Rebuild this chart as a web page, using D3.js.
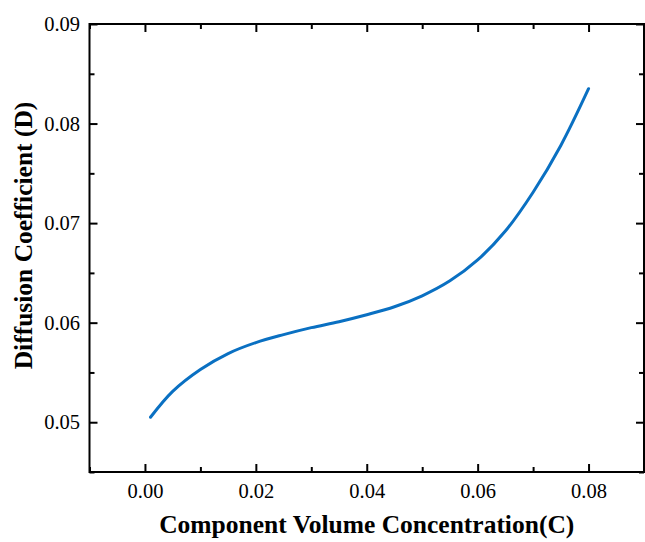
<!DOCTYPE html>
<html>
<head>
<meta charset="utf-8">
<script src="https://cdn.jsdelivr.net/npm/d3@7/dist/d3.min.js"></script>
<style>
  html, body { margin: 0; padding: 0; background: #fff; }
  svg { display: block; }
</style>
</head>
<body>
<svg id="chart" width="645" height="542"></svg>
<script>
// Concentration values and fitted diffusion coefficient
const concentration = [0.001, 0.005, 0.010, 0.015, 0.020, 0.025, 0.030, 0.035, 0.040,
                       0.045, 0.050, 0.055, 0.060, 0.065, 0.070, 0.075, 0.080];
const diffusion = [0.0505, 0.0531, 0.0553, 0.0569, 0.0580, 0.0588, 0.0595, 0.0601, 0.0608,
                   0.0616, 0.0627, 0.0642, 0.0663, 0.0692, 0.0731, 0.0778, 0.0835];

const xTicks = [0.00, 0.02, 0.04, 0.06, 0.08];
const xMinorTicks = [-0.01, 0.01, 0.03, 0.05, 0.07, 0.09];
const yTicks = [0.05, 0.06, 0.07, 0.08, 0.09];
const yMinorTicks = [0.045, 0.055, 0.065, 0.075, 0.085];

const xTitle = "Component Volume Concentration(C)";
const yTitle = "Diffusion Coefficient (D)";

const FONT = "'Liberation Serif', 'Times New Roman', serif";

const svg = d3.select("#chart");
const plotLeft = 89.5, plotRight = 644, plotTop = 24, plotBottom = 472;

const x = d3.scaleLinear().domain([-0.01, 0.09]).range([plotLeft, plotRight]);
const y = d3.scaleLinear().domain([0.045, 0.09]).range([plotBottom, plotTop]);

const MAJOR = 8, MINOR = 5;

// Curve
const pts = concentration.map((c, i) => [c, diffusion[i]]);
svg.append("path")
  .datum(pts)
  .attr("fill", "none")
  .attr("stroke", "#0a70c2")
  .attr("stroke-width", 3)
  .attr("stroke-linecap", "round")
  .attr("d", d3.line().x(d => x(d[0])).y(d => y(d[1])).curve(d3.curveCatmullRom.alpha(0.5)));

// Axes: ticks point inward, mirrored on top and right
function styleAxis(g) {
  g.attr("font-family", FONT);
  g.select(".domain").remove();
  g.selectAll("line").attr("stroke", "#000").attr("stroke-width", 2);
}

const bottomAxis = svg.append("g").attr("transform", `translate(0,${plotBottom})`)
  .call(d3.axisBottom(x).tickValues(xTicks).tickSize(-MAJOR).tickPadding(11).tickFormat(d3.format(".2f")));
styleAxis(bottomAxis);
bottomAxis.selectAll("text").attr("font-size", 20.5).attr("font-family", FONT).attr("fill", "#000").attr("dy", "0.71em");

svg.append("g").attr("transform", `translate(0,${plotBottom})`)
  .call(d3.axisBottom(x).tickValues(xMinorTicks).tickSize(-MINOR).tickFormat(""))
  .call(styleAxis);

svg.append("g").attr("transform", `translate(0,${plotTop})`)
  .call(d3.axisTop(x).tickValues(xTicks).tickSize(-MAJOR).tickFormat(""))
  .call(styleAxis);
svg.append("g").attr("transform", `translate(0,${plotTop})`)
  .call(d3.axisTop(x).tickValues(xMinorTicks).tickSize(-MINOR).tickFormat(""))
  .call(styleAxis);

const leftAxis = svg.append("g").attr("transform", `translate(${plotLeft},0)`)
  .call(d3.axisLeft(y).tickValues(yTicks).tickSize(-MAJOR).tickPadding(9.5).tickFormat(d3.format(".2f")));
styleAxis(leftAxis);
leftAxis.selectAll("text").attr("font-size", 20.5).attr("font-family", FONT).attr("fill", "#000");

svg.append("g").attr("transform", `translate(${plotLeft},0)`)
  .call(d3.axisLeft(y).tickValues(yMinorTicks).tickSize(-MINOR).tickFormat(""))
  .call(styleAxis);

svg.append("g").attr("transform", `translate(${plotRight},0)`)
  .call(d3.axisRight(y).tickValues(yTicks).tickSize(-MAJOR).tickFormat(""))
  .call(styleAxis);
svg.append("g").attr("transform", `translate(${plotRight},0)`)
  .call(d3.axisRight(y).tickValues(yMinorTicks).tickSize(-MINOR).tickFormat(""))
  .call(styleAxis);

// Frame
svg.append("rect")
  .attr("x", plotLeft).attr("y", plotTop)
  .attr("width", plotRight - plotLeft).attr("height", plotBottom - plotTop)
  .attr("fill", "none").attr("stroke", "#000").attr("stroke-width", 2);

// Axis titles
svg.append("text")
  .attr("x", (plotLeft + plotRight) / 2).attr("y", 533)
  .attr("text-anchor", "middle")
  .attr("font-family", FONT)
  .attr("font-size", 25.5).attr("font-weight", "bold")
  .text(xTitle);

svg.append("text")
  .attr("transform", `translate(32,235.5) rotate(-90)`)
  .attr("text-anchor", "middle")
  .attr("font-family", FONT)
  .attr("font-size", 25.5).attr("font-weight", "bold")
  .text(yTitle);
</script>
</body>
</html>
